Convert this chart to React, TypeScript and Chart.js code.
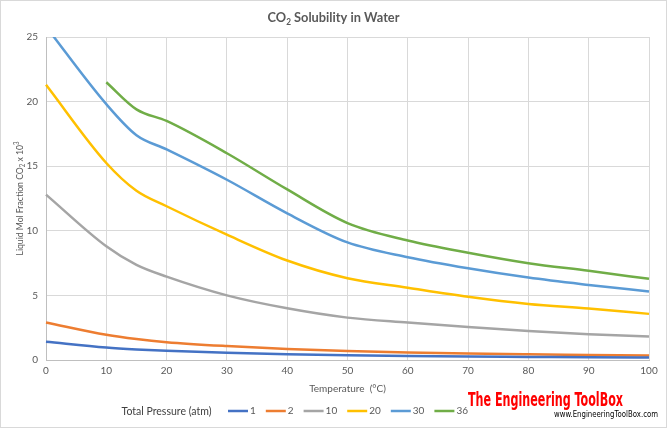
import React, { useEffect, useRef } from "react";
import { Chart, registerables } from "chart.js";

Chart.register(...registerables);

// Temperature (°C)
const temperatures = [0, 10, 15, 20, 30, 40, 50, 60, 70, 80, 90, 100];

// Liquid mole fraction of CO2 (x 10^3) at each total pressure (atm)
const p1 = [1.42, 0.97, 0.82, 0.71, 0.56, 0.45, 0.37, 0.31, 0.27, 0.24, 0.21, 0.19];
const p2 = [2.9, 1.95, 1.62, 1.38, 1.08, 0.86, 0.7, 0.58, 0.5, 0.44, 0.39, 0.34];
const p10 = [12.8, 8.8, 7.36, 6.45, 5.0, 4.0, 3.28, 2.9, 2.56, 2.25, 2.0, 1.81];
const p20 = [21.3, 15.25, 13.1, 11.9, 9.7, 7.7, 6.33, 5.6, 4.9, 4.34, 3.98, 3.57];
const p30 = [25.8, 19.8, 17.4, 16.3, 13.95, 11.35, 9.1, 7.96, 7.1, 6.38, 5.81, 5.3];
const p36 = [null, 21.5, 19.4, 18.5, 16.0, 13.2, 10.6, 9.25, 8.3, 7.49, 6.9, 6.28];

const pressureLabels = ["1", "2", "10", "20", "30", "36"];
const pressureSeries = [p1, p2, p10, p20, p30, p36];
const seriesColors = ["#4472C4", "#ED7D31", "#A5A5A5", "#FFC000", "#5B9BD5", "#70AD47"];

const FONT = "Lato, 'Open Sans', sans-serif";
const TEXT_GRAY = "#595959";

type Run = { text: string; font: string; dy: number };

// Draws a sequence of text runs (for sub/superscripts) squeezed to a given width.
function drawRuns(ctx: CanvasRenderingContext2D, runs: Run[], cx: number, cy: number, fitWidth: number) {
  let total = 0;
  const widths = runs.map((r) => {
    ctx.font = r.font;
    const w = ctx.measureText(r.text).width;
    total += w;
    return w;
  });
  const s = Math.min(1, fitWidth / total);
  ctx.save();
  ctx.translate(cx, cy);
  ctx.scale(s, 1);
  let x = -total / 2;
  runs.forEach((r, i) => {
    ctx.font = r.font;
    ctx.fillText(r.text, x, r.dy);
    x += widths[i];
  });
  ctx.restore();
}

const decorations = {
  id: "decorations",
  afterDraw(chart: any) {
    const { ctx, width, height, chartArea } = chart;
    ctx.save();

    // outer frame
    ctx.strokeStyle = "#d9d9d9";
    ctx.lineWidth = 1;
    ctx.strokeRect(0.5, 0.5, width - 1, height - 1);

    // chart title
    ctx.fillStyle = TEXT_GRAY;
    ctx.textBaseline = "alphabetic";
    ctx.textAlign = "left";
    const bold = `bold 14px ${FONT}`;
    drawRuns(
      ctx,
      [
        { text: "CO", font: bold, dy: 0 },
        { text: "2", font: `bold 9px ${FONT}`, dy: 3 },
        { text: " Solubility in Water", font: bold, dy: 0 },
      ],
      width / 2,
      22,
      132
    );

    // y axis title
    ctx.save();
    ctx.translate(20, (chartArea.top + chartArea.bottom) / 2);
    ctx.rotate(-Math.PI / 2);
    ctx.textBaseline = "middle";
    const reg = `10px ${FONT}`;
    drawRuns(
      ctx,
      [
        { text: "Liquid Mol Fraction CO", font: reg, dy: 0 },
        { text: "2", font: `7px ${FONT}`, dy: 2.5 },
        { text: " x 10", font: reg, dy: 0 },
        { text: "3", font: `7px ${FONT}`, dy: -3 },
      ],
      0,
      0,
      114
    );
    ctx.restore();

    // legend
    const ly = 411;
    ctx.textBaseline = "middle";
    ctx.fillStyle = "#404040";
    drawRuns(ctx, [{ text: "Total Pressure (atm)", font: `12px ${FONT}`, dy: 0 }], 122 + 89 / 2, ly, 90);
    let lx = 228;
    chart.data.datasets.forEach((ds: any) => {
      ctx.strokeStyle = ds.borderColor;
      ctx.lineWidth = 2.5;
      ctx.beginPath();
      ctx.moveTo(lx, ly);
      ctx.lineTo(lx + 20, ly);
      ctx.stroke();
      ctx.fillStyle = TEXT_GRAY;
      ctx.font = `10px ${FONT}`;
      ctx.fillText(ds.label, lx + 22, ly);
      lx += 22 + ctx.measureText(ds.label).width + 10;
    });

    // brand
    ctx.textBaseline = "alphabetic";
    ctx.fillStyle = "#FF0000";
    ctx.font = `bold 19px 'DejaVu Sans Condensed', 'DejaVu Sans', sans-serif`;
    const brand = "The Engineering ToolBox";
    const bw = ctx.measureText(brand).width;
    ctx.save();
    ctx.translate(468, 406);
    ctx.scale(155 / bw, 1);
    ctx.fillText(brand, 0, 0);
    ctx.restore();

    ctx.fillStyle = "#000000";
    ctx.font = `8px 'DejaVu Sans', sans-serif`;
    const url = "www.EngineeringToolBox.com";
    const uw = ctx.measureText(url).width;
    ctx.save();
    ctx.translate(554, 417);
    ctx.scale(104 / uw, 1);
    ctx.fillText(url, 0, 0);
    ctx.restore();

    ctx.restore();
  },
};

export default function App() {
  const canvasRef = useRef<HTMLCanvasElement | null>(null);

  useEffect(() => {
    const canvas = canvasRef.current;
    if (!canvas) return;

    const datasets = pressureSeries.map((values, i) => ({
      label: pressureLabels[i],
      data: temperatures.map((t, j) => ({ x: t, y: values[j] })),
      borderColor: seriesColors[i],
      backgroundColor: seriesColors[i],
      borderWidth: 2.5,
      pointRadius: 0,
      cubicInterpolationMode: "monotone" as const,
      fill: false,
      clip: { left: 2, right: 2, top: 0, bottom: 2 },
    }));

    const chart = new Chart(canvas, {
      type: "line",
      data: { datasets },
      options: {
        animation: false,
        responsive: false,
        devicePixelRatio: 1,
        layout: { padding: { left: 0, right: 18, top: 37, bottom: 33 } },
        elements: { line: { capBezierPoints: false } },
        plugins: {
          legend: { display: false },
          title: { display: false },
          tooltip: { enabled: false },
        },
        scales: {
          x: {
            type: "linear",
            min: 0,
            max: 100,
            ticks: {
              stepSize: 10,
              color: TEXT_GRAY,
              font: { family: FONT, size: 10 },
              padding: 5,
            },
            grid: { color: "#d9d9d9", drawTicks: false, lineWidth: 1 },
            border: { color: "#bfbfbf", width: 1 },
            title: {
              display: true,
              text: "Temperature  (°C)",
              color: TEXT_GRAY,
              font: { family: FONT, size: 10 },
              padding: { top: 0, bottom: 0 },
            },
            afterFit(scale: any) {
              scale.height = 35;
            },
          },
          y: {
            min: 0,
            max: 25,
            ticks: {
              stepSize: 5,
              color: TEXT_GRAY,
              font: { family: FONT, size: 10 },
              padding: 8,
            },
            grid: { color: "#d9d9d9", drawTicks: false, lineWidth: 1 },
            border: { color: "#bfbfbf", width: 1 },
            title: { display: false },
            afterFit(scale: any) {
              scale.width = 46;
            },
          },
        },
      },
      plugins: [decorations],
    });

    return () => chart.destroy();
  }, []);

  return (
    <div style={{ position: "fixed", left: 0, top: 0, width: 667, height: 428, background: "#ffffff" }}>
      <canvas ref={canvasRef} width={667} height={428} style={{ display: "block", width: 667, height: 428 }} />
    </div>
  );
}
